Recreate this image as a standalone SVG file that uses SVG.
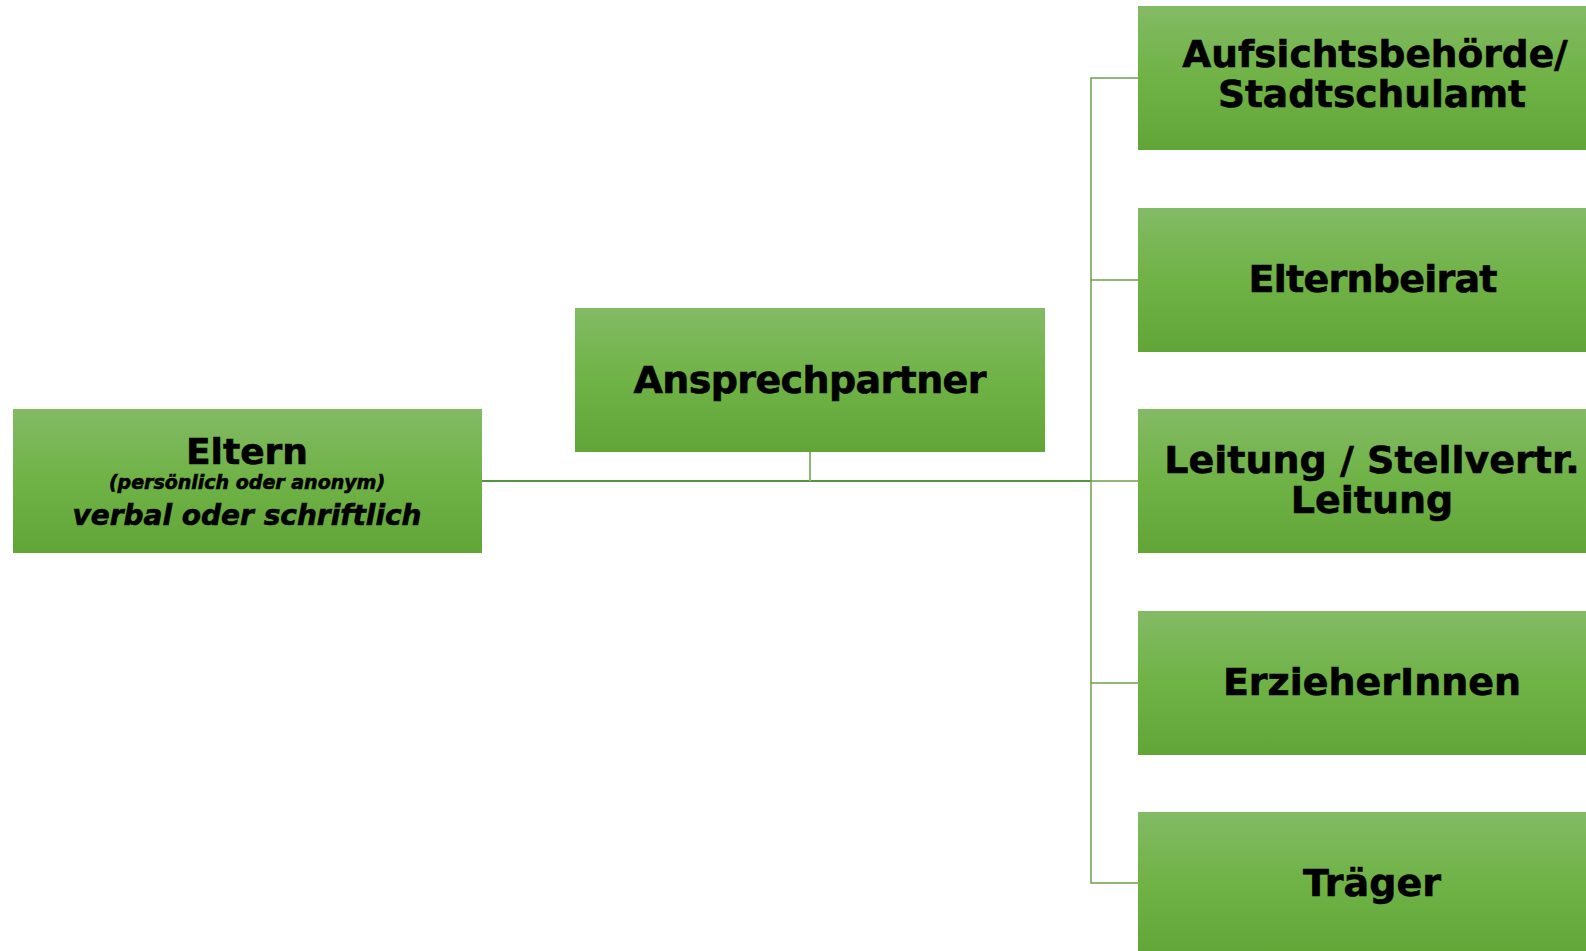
<svg xmlns="http://www.w3.org/2000/svg" width="1586" height="951" viewBox="0 0 1586 951">
<defs>
<linearGradient id="g" x1="0" y1="0" x2="0" y2="1">
<stop offset="0" stop-color="#83bb65"/>
<stop offset="0.5" stop-color="#6fb246"/>
<stop offset="1" stop-color="#62a537"/>
</linearGradient>
<style>
.box{fill:url(#g);}
.t{font-family:"DejaVu Sans",Verdana,sans-serif;font-weight:bold;fill:#000;stroke:#000;stroke-width:0.6;text-anchor:middle;}
.big{font-size:38px;}
.it{font-style:italic;}
.main{stroke:#57953a;stroke-width:2;fill:none;}
.br{stroke:#6c9f4f;stroke-width:1.5;fill:none;}
.stub{stroke:#8db878;stroke-width:2;fill:none;}
</style>
</defs>
<rect width="1586" height="951" fill="#fff"/>
<g id="connectors">
<line class="main" x1="482" y1="481" x2="1091" y2="481"/>
<line class="stub" x1="810" y1="452" x2="810" y2="481"/>
<polyline class="br" points="1138,78 1091,78 1091,883 1138,883"/>
<line class="br" x1="1091" y1="280" x2="1138" y2="280"/>
<line class="br" x1="1091" y1="481" x2="1138" y2="481"/>
<line class="br" x1="1091" y1="683" x2="1138" y2="683"/>
</g>
<g id="eltern">
<rect class="box" x="13" y="409" width="469" height="144"/>
<text class="t" x="247" y="464" font-size="36">Eltern</text>
<text class="t it" x="247" y="489" font-size="19" stroke-width="0.4">(persönlich oder anonym)</text>
<text class="t it" x="247" y="525" font-size="28">verbal oder schriftlich</text>
</g>
<g id="ansprechpartner">
<rect class="box" x="575" y="308" width="470" height="144"/>
<text class="t big" x="810" y="393" textLength="353" lengthAdjust="spacing">Ansprechpartner</text>
</g>
<g id="aufsicht">
<rect class="box" x="1138" y="6" width="469" height="144"/>
<text class="t" x="1375" y="67" font-size="37.5">Aufsichtsbehörde/</text>
<text class="t" x="1372" y="107" font-size="37.5">Stadtschulamt</text>
</g>
<g id="elternbeirat">
<rect class="box" x="1138" y="208" width="469" height="144"/>
<text class="t big" x="1373" y="292" textLength="249" lengthAdjust="spacing">Elternbeirat</text>
</g>
<g id="leitung">
<rect class="box" x="1138" y="409" width="469" height="144"/>
<text class="t big" x="1372" y="473">Leitung / Stellvertr.</text>
<text class="t big" x="1372" y="513">Leitung</text>
</g>
<g id="erzieher">
<rect class="box" x="1138" y="611" width="469" height="144"/>
<text class="t big" x="1372" y="695">ErzieherInnen</text>
</g>
<g id="traeger">
<rect class="box" x="1138" y="812" width="469" height="144"/>
<text class="t big" x="1372" y="896">Träger</text>
</g>
</svg>
